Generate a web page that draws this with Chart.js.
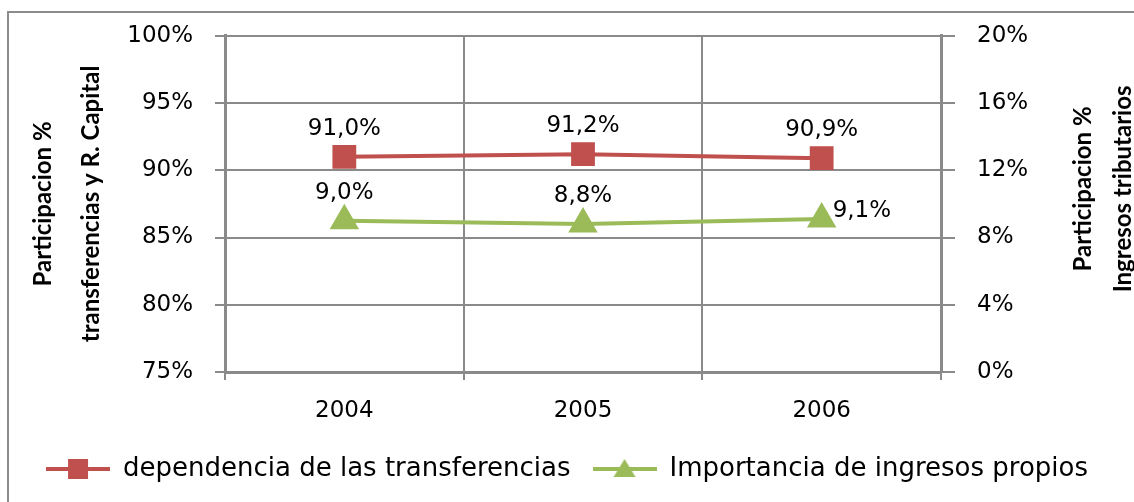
<!DOCTYPE html>
<html>
<head>
<meta charset="utf-8">
<script src="https://cdn.jsdelivr.net/npm/chart.js@4.4.1/dist/chart.umd.min.js"></script>
<style>
  body { margin: 0; background: #fff; }
</style>
</head>
<body>
<canvas id="chart" width="1134" height="502"></canvas>
<script>
// data
const years = ['2004', '2005', '2006'];
const dependencia = [91.0, 91.2, 90.9];
const ingresosPropios = [9.0, 8.8, 9.1];
const seriesNames = ['dependencia de las transferencias', 'Importancia de ingresos propios'];
const leftRange = [75, 100, 5];
const rightRange = [0, 20, 4];

const RED = '#C0504D';
const GREEN = '#9BBB59';
const GRID = '#8a8a8a';
const tickFont = { family: "'DejaVu Sans', sans-serif", size: 23 };
const titleFamily = "Lato, sans-serif";
const BOTTOM_PAD = 10;

const fmt = v => v.toFixed(1).replace('.', ',') + '%';

// little line + marker images for the legend
function legendIcon(color, shape) {
  const c = document.createElement('canvas');
  c.width = 64; c.height = 24;
  const g = c.getContext('2d');
  g.strokeStyle = color; g.lineWidth = 4;
  g.beginPath(); g.moveTo(0, 12); g.lineTo(64, 12); g.stroke();
  g.fillStyle = color;
  if (shape === 'rect') {
    g.fillRect(22, 2, 20, 20);
  } else {
    g.beginPath(); g.moveTo(32, 2); g.lineTo(43, 20); g.lineTo(21, 20); g.closePath(); g.fill();
  }
  return c;
}
const icons = [legendIcon(RED, 'rect'), legendIcon(GREEN, 'triangle')];

// outer frame of the chart object
const framePlugin = {
  id: 'frame',
  beforeDraw(chart) {
    const ctx = chart.ctx;
    ctx.save();
    ctx.strokeStyle = '#8c8c8c';
    ctx.lineWidth = 2;
    ctx.strokeRect(8, 12, 1300, 700);
    ctx.restore();
  }
};

// value labels above the points
const valueLabels = {
  id: 'valueLabels',
  afterDatasetsDraw(chart) {
    const ctx = chart.ctx;
    ctx.save();
    ctx.font = `${tickFont.size}px ${tickFont.family}`;
    ctx.fillStyle = '#000';
    ctx.textBaseline = 'middle';
    chart.data.datasets.forEach((ds, di) => {
      chart.getDatasetMeta(di).data.forEach((pt, i) => {
        const text = fmt(ds.data[i]);
        if (di === 1 && i === 2) {
          ctx.textAlign = 'left';
          ctx.fillText(text, pt.x + 11, pt.y - 8);
        } else {
          ctx.textAlign = 'center';
          ctx.fillText(text, pt.x, pt.y - 28);
        }
      });
    });
    ctx.restore();
  }
};

// right axis title reads bottom to top like the left one
const rightTitle = {
  id: 'rightTitle',
  afterDraw(chart) {
    const ctx = chart.ctx;
    const a = chart.chartArea;
    ctx.save();
    ctx.font = `bold 24px ${titleFamily}`;
    ctx.fillStyle = '#000';
    ctx.textAlign = 'center';
    ctx.textBaseline = 'middle';
    const lines = ['Participacion %', 'Ingresos tributarios'];
    const xs = [1083, 1123];
    lines.forEach((t, i) => {
      ctx.save();
      ctx.translate(xs[i], (a.top + a.bottom) / 2 - 15);
      ctx.rotate(-Math.PI / 2);
      ctx.fillText(t, 0, 0);
      ctx.restore();
    });
    ctx.restore();
  }
};

new Chart(document.getElementById('chart'), {
  type: 'line',
  data: {
    labels: years,
    datasets: [
      {
        label: seriesNames[0],
        data: dependencia,
        yAxisID: 'y',
        borderColor: RED,
        backgroundColor: RED,
        borderWidth: 4,
        pointStyle: 'rect',
        pointRadius: 14,
        pointHoverRadius: 14,
        tension: 0
      },
      {
        label: seriesNames[1],
        data: ingresosPropios,
        yAxisID: 'y2',
        borderColor: GREEN,
        backgroundColor: GREEN,
        borderWidth: 4,
        pointStyle: 'triangle',
        pointRadius: 13,
        pointHoverRadius: 13,
        tension: 0
      }
    ]
  },
  options: {
    responsive: false,
    animation: false,
    layout: { padding: { top: 34, left: 0, right: 0, bottom: BOTTOM_PAD } },
    scales: {
      x: {
        offset: true,
        grid: { offset: true, color: GRID, lineWidth: 2, tickLength: 8 },
        border: { color: GRID, width: 3 },
        ticks: { color: '#000', font: tickFont, padding: 17 },
        afterFit(s) { s.height = 130 - BOTTOM_PAD - (s.chart.legend ? s.chart.legend.height : 0); }
      },
      y: {
        position: 'left',
        min: leftRange[0], max: leftRange[1],
        ticks: { stepSize: leftRange[2], color: '#000', font: tickFont, padding: 22, callback: v => v + '%' },
        grid: { color: GRID, lineWidth: 2, tickLength: 10 },
        border: { color: GRID, width: 3 },
        title: {
          display: true,
          text: ['Participacion %', 'transferencias y R. Capital'],
          color: '#000',
          font: { family: titleFamily, size: 24, weight: 'bold', lineHeight: 2 },
          padding: { top: 19, bottom: 0 }
        },
        afterFit(s) { s.width = 225; }
      },
      y2: {
        position: 'right',
        min: rightRange[0], max: rightRange[1],
        ticks: { stepSize: rightRange[2], color: '#000', font: tickFont, padding: 22, callback: v => v + '%' },
        grid: { drawOnChartArea: false, color: GRID, lineWidth: 2, tickLength: 14 },
        border: { color: GRID, width: 3 },
        afterFit(s) { s.width = 193; }
      }
    },
    plugins: {
      legend: {
        position: 'bottom',
        labels: {
          color: '#000',
          font: { family: tickFont.family, size: 26 },
          usePointStyle: true,
          pointStyleWidth: 64,
          padding: 22,
          generateLabels(chart) {
            const items = Chart.defaults.plugins.legend.labels.generateLabels(chart);
            items.forEach((it, i) => { it.pointStyle = icons[i]; });
            return items;
          }
        }
      },
      tooltip: { enabled: false }
    }
  },
  plugins: [framePlugin, valueLabels, rightTitle]
});
</script>
</body>
</html>
